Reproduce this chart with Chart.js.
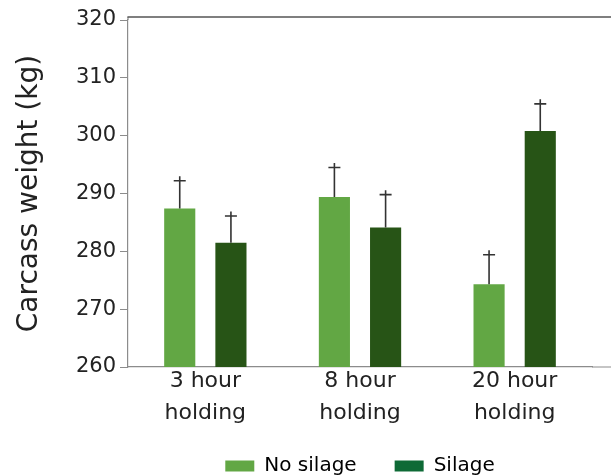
<!DOCTYPE html>
<html>
<head>
<meta charset="utf-8">
<script src="https://cdn.jsdelivr.net/npm/chart.js@4"></script>
<style>
  html, body { margin: 0; padding: 0; background: #fff; }
  #wrap { width: 611px; height: 475px; }
</style>
</head>
<body>
<div id="wrap"><canvas id="chart"></canvas></div>
<script>
// data
const categories = [['3 hour', 'holding'], ['8 hour', 'holding'], ['20 hour', 'holding']];
const noSilage = [287.4, 289.4, 274.3];
const silage = [281.5, 284.1, 300.8];
const noSilageErr = [4.8, 5.1, 5.1];
const silageErr = [4.6, 5.7, 4.7];
const yMin = 260, yMax = 320, yStep = 10;

const fontFamily = '"DejaVu Sans", sans-serif';
const axisGrey = '#8c8c8c';

// draws the "+" style error bars above each bar
const errorBars = {
    id: 'errorBars',
    afterDatasetsDraw(chart) {
        const ctx = chart.ctx;
        const yScale = chart.scales.y;
        ctx.save();
        ctx.strokeStyle = '#333333';
        ctx.lineWidth = 1.6;
        chart.data.datasets.forEach((ds, i) => {
            const meta = chart.getDatasetMeta(i);
            meta.data.forEach((bar, j) => {
                const top = yScale.getPixelForValue(ds.data[j] + ds.errors[j]);
                ctx.beginPath();
                ctx.moveTo(bar.x, bar.y);
                ctx.lineTo(bar.x, top - 4.5);
                ctx.moveTo(bar.x - 6, top);
                ctx.lineTo(bar.x + 6, top);
                ctx.stroke();
            });
        });
        ctx.restore();
    }
};

// frame bits: x axis runs on to the right edge, top line above 320
const frame = {
    id: 'frame',
    afterLayout(chart) {
        // centre the legend under the plot area
        const lg = chart.legend;
        const a = chart.chartArea;
        lg.left = a.left;
        lg.right = a.right;
        lg.width = a.right - a.left;
        lg.top = 418;
    },
    afterDraw(chart) {
        const ctx = chart.ctx;
        const a = chart.chartArea;
        ctx.save();
        ctx.strokeStyle = axisGrey;
        ctx.lineWidth = 1.2;
        ctx.beginPath();
        ctx.moveTo(a.right, a.bottom);
        ctx.lineTo(chart.width, a.bottom);
        ctx.moveTo(a.left, a.top);
        ctx.lineTo(a.left, a.top - 3);
        ctx.stroke();
        ctx.strokeStyle = '#555555';
        ctx.lineWidth = 1.4;
        ctx.beginPath();
        ctx.moveTo(a.left - 0.6, a.top - 3);
        ctx.lineTo(chart.width, a.top - 3);
        ctx.stroke();
        ctx.restore();
    }
};

new Chart(document.getElementById('chart'), {
    type: 'bar',
    data: {
        labels: categories,
        datasets: [{
            label: 'No silage',
            data: noSilage,
            errors: noSilageErr,
            backgroundColor: '#62a744',
            legendColor: '#62a744'
        }, {
            label: 'Silage',
            data: silage,
            errors: silageErr,
            backgroundColor: '#275416',
            legendColor: '#0e6a36'
        }]
    },
    options: {
        responsive: true,
        maintainAspectRatio: false,
        animation: false,
        datasets: {
            bar: { categoryPercentage: 0.662, barPercentage: 0.608 }
        },
        layout: { padding: { top: 20, right: 19, left: 0, bottom: -20 } },
        plugins: {
            tooltip: { enabled: false },
            legend: {
                position: 'bottom',
                labels: {
                    color: '#222',
                    font: { family: fontFamily, size: 20 },
                    boxWidth: 29,
                    boxHeight: 11,
                    padding: 38,
                    generateLabels(chart) {
                        return chart.data.datasets.map((ds, i) => ({
                            text: ds.label,
                            fillStyle: ds.legendColor,
                            strokeStyle: ds.legendColor,
                            lineWidth: 0,
                            datasetIndex: i
                        }));
                    }
                }
            }
        },
        scales: {
            x: {
                afterFit(scale) { scale.height = 60; },
                grid: { display: false, drawTicks: false },
                border: { display: true, color: axisGrey, width: 1.2 },
                ticks: {
                    color: '#222',
                    font: { family: fontFamily, size: 22, lineHeight: 1.45 },
                    padding: -2
                }
            },
            y: {
                min: yMin,
                max: yMax,
                afterFit(scale) { scale.width = 128; },
                ticks: {
                    stepSize: yStep,
                    color: '#222',
                    font: { family: fontFamily, size: 21 },
                    padding: 4
                },
                grid: {
                    display: true,
                    drawOnChartArea: false,
                    drawTicks: true,
                    tickLength: 8,
                    color: axisGrey
                },
                border: { display: true, color: axisGrey, width: 1.2 },
                title: {
                    display: true,
                    text: 'Carcass weight (kg)',
                    color: '#222',
                    font: { family: fontFamily, size: 28 },
                    padding: { top: 13, bottom: 0 }
                }
            }
        }
    },
    plugins: [errorBars, frame]
});
</script>
</body>
</html>
